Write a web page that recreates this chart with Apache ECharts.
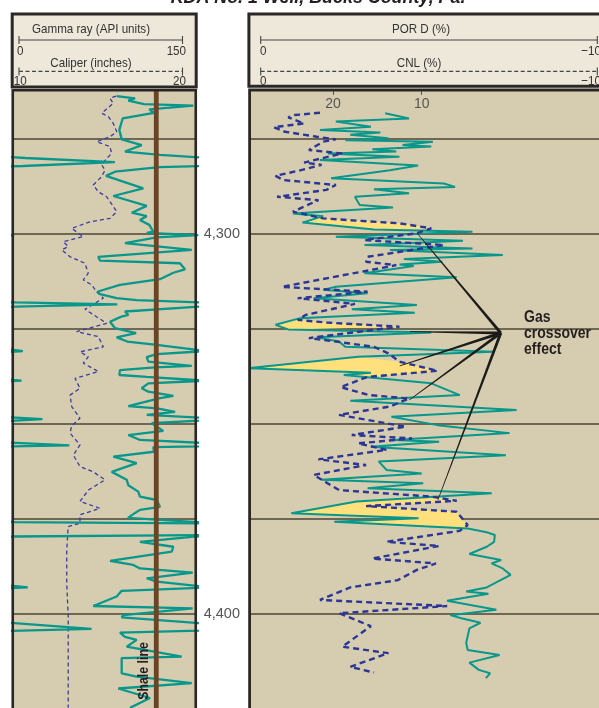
<!DOCTYPE html>
<html>
<head>
<meta charset="utf-8">
<script src="https://cdn.jsdelivr.net/npm/echarts@6/dist/echarts.min.js"></script>
<style>
  html, body { margin: 0; padding: 0; background: #ffffff; }
  #chart { width: 599px; height: 708px; }
</style>
</head>
<body>
<div id="chart"></div>
<script>
// ---- Log curves: [depth (ft), reading] ----
// Gamma ray, API units (0-150 track; readings above 150 wrap onto the backup trace)
const gammaRay = [
  [4263.7,84.5],[4264.3,99.5],[4264.9,94.0],[4265.8,106.8],[4266.2,147.0],[4267.2,111.1],[4268.1,114.9],
  [4269.6,89.4],[4272.6,86.7],[4275.1,88.6],[4276.6,104.9],[4278.3,91.3],[4279.2,119.8],[4280.0,160],
  [4281.1,233],[4282.1,158],[4282.4,119.3],[4283.6,83.2],[4284.7,75.8],[4288.0,106.2],[4290.0,81.8],
  [4292.6,109.0],[4294.4,96.8],[4295.3,109.0],[4296.3,103.5],[4297.6,111.1],[4299.4,114.4],[4299.7,109.0],
  [4300.3,151],[4300.9,117.1],[4302.4,91.3],[4304.2,145.7],[4306.0,69.5],[4307.0,70.9],[4307.7,136.1],
  [4309.3,140.2],[4310.2,130.7],[4311.9,119.8],[4313.4,87.2],[4315.2,68.7],[4315.8,70.9],[4316.9,84.5],
  [4317.4,100.8],[4318.0,152],[4318.5,235],[4319.1,152],[4320.4,91.3],[4321.3,94.0],[4321.8,87.8],
  [4323.1,79.1],[4324.8,83.2],[4326.1,100.3],[4327.2,84.5],[4328.3,93.2],[4329.2,117.1],[4330.8,158],
  [4331.6,117.1],[4332.4,109.0],[4333.6,110.3],[4334.7,145.7],[4335.1,115.8],[4335.8,87.2],[4337.1,86.7],
  [4337.6,109.0],[4338.6,157],[4339.3,110.3],[4340.6,104.9],[4341.5,110.3],[4342.6,130.7],[4343.2,119.8],
  [4345.3,94.0],[4345.9,117.6],[4346.8,132.1],[4347.6,109.0],[4348.7,174],[4349.8,113.1],[4351.8,122.5],
  [4352.9,94.0],[4354.2,103.5],[4355.6,196],[4356.1,114.4],[4357.3,114.9],[4358.6,81.8],[4360.3,100.8],
  [4362.6,80.5],[4364.7,92.7],[4366.1,94.0],[4367.8,102.1],[4369.1,103.5],[4370.0,117.1],[4371.8,119.8],
  [4372.6,103.5],[4373.4,99.5],[4374.7,93.7],[4375.8,150],[4376.2,320],[4379.2,320],[4379.6,150],
  [4381.0,103.5],[4382.3,130.7],[4383.6,129.4],[4386.0,79.1],[4387.1,98.1],[4388.0,103.5],[4389.1,146.5],
  [4390.6,109.0],[4391.5,117.1],[4393.0,162],[4393.9,88.6],[4395.4,84.5],[4397.9,65.5],[4398.5,146.5],
  [4400.3,89.9],[4400.9,88.6],[4403.9,214],[4404.9,87.2],[4406.0,91.3],[4406.8,100.8],[4408.6,92.7],
  [4411.2,137.5],[4411.6,88.6],[4415.6,88.6],[4416.5,100.8],[4418.2,145.7],[4419.6,85.8],[4422.1,111.7],
  [4424.7,95.4]
];

// Caliper, inches (10-20 track)
const caliper = [
  [4263.7,15.60],[4264.3,15.27],[4265.6,15.45],[4268.2,14.82],[4269.1,15.18],[4270.9,15.45],[4273.1,15.64],
  [4274.4,15.27],[4275.7,14.55],[4277.0,15.27],[4278.8,15.36],[4280.1,15.09],[4281.8,14.82],[4283.2,15.0],
  [4284.9,14.82],[4287.1,14.36],[4288.9,14.64],[4290.2,15.09],[4291.5,15.27],[4294.1,15.64],[4295.9,15.27],
  [4296.8,14.18],[4298.5,13.19],[4299.8,13.55],[4300.7,13.82],[4302.0,12.73],[4303.3,13.0],[4304.2,12.65],
  [4306.0,13.10],[4307.7,13.91],[4310.3,14.09],[4312.1,13.82],[4313.4,14.28],[4315.2,14.55],[4316.9,14.91],
  [4319.8,13.91],[4323.5,15.09],[4325.7,13.46],[4327.0,14.64],[4329.7,14.91],[4331.0,13.64],[4332.3,14.09],
  [4334.0,13.82],[4336.2,14.64],[4338.0,13.37],[4340.6,13.64],[4342.4,13.10],[4345.4,13.19],[4348.5,13.64],
  [4350.5,13.19],[4352.4,13.10],[4355.5,13.64],[4358.2,13.28],[4361.2,13.64],[4362.6,14.36],[4364.7,15.0],
  [4367.4,14.09],[4370.4,13.64],[4372.2,14.73],[4373.9,13.64],[4376.1,13.64],[4377.0,13.0],[4383.2,12.92],
  [4391.8,12.92],[4400.7,13.0],[4424.7,13.0]
];

// Density porosity, percent
const porD = [
  [4268.2,14.12],[4269.6,11.43],[4270.4,19.68],[4271.8,15.73],[4272.6,21.47],[4273.3,14.66],[4273.9,18.06],
  [4274.8,13.76],[4275.3,18.60],[4275.7,8.74],[4276.6,12.15],[4277.0,8.92],[4277.7,15.56],[4278.3,12.87],
  [4278.8,20.57],[4279.7,12.51],[4280.5,21.47],[4282.0,10.4],[4283.2,13.58],[4285.3,20.22],[4286.7,7.49],
  [4287.6,6.24],[4288.2,15.38],[4289.3,11.43],[4290.2,17.53],[4292.4,16.99],[4293.0,13.23],[4294.6,24.52],
  [4295.3,21.11],[4297.0,23.44],[4298.8,15.38],[4299.4,4.27],[4300.7,19.68],[4301.8,5.34],[4302.9,16.45],
  [4303.8,4.27],[4304.2,13.58],[4305.5,0.86],[4306.6,12.0],[4307.3,7.67],[4308.0,12.5],[4308.4,10.89],
  [4310.3,16.45],[4311.4,6.05],[4313.9,19.68],[4314.7,21.11],[4315.6,16.10],[4316.9,22.18],[4318.7,10.54],
  [4319.8,17.88],[4320.7,10.78],[4322.2,23.80],[4323.9,26.48],[4325.1,25.05],[4325.9,8.92],[4327.2,21.83],
  [4328.3,19.32],[4329.7,18.60],[4331.0,1.9],[4332.3,17.17],[4335.3,29.4],[4336.5,15.73],[4337.1,18.78],
  [4339.3,8.92],[4342.4,5.70],[4343.9,18.06],[4346.3,-0.7],[4348.1,13.41],[4350.3,8.20],[4352.4,0.1],
  [4354.2,13.23],[4354.7,8.03],[4356.0,15.73],[4358.2,0.5],[4359.9,14.84],[4362.1,13.95],[4363.0,10.0],
  [4364.7,21.29],[4365.6,9.82],[4366.9,16.10],[4368.2,2.1],[4370.4,17.34],[4373.5,24.70],[4374.8,10.35],
  [4375.7,19.86],[4377.5,4.8],[4378.5,2.66],[4379.2,1.75],[4381.0,1.83],[4382.3,2.66],[4384.2,4.62],
  [4385.8,1.04],[4386.7,2.12],[4388.0,0.86],[4389.7,-0.03],[4391.9,1.75],[4393.0,2.66],[4394.1,4.98],
  [4394.7,2.47],[4396.5,7.13],[4398.9,1.58],[4400.3,6.77],[4401.1,5.52],[4402.3,3.37],[4403.8,4.62],
  [4407.6,4.98],[4409.5,4.81],[4410.8,1.21],[4412.8,4.62],[4414.7,3.55],[4415.6,2.29],[4416.9,2.76]
];

// Compensated neutron porosity, percent
const cnl = [
  [4268.1,21.47],[4268.7,24.33],[4269.3,25.05],[4270.9,23.26],[4271.9,26.67],[4273.1,25.41],[4274.4,21.83],
  [4275.1,19.68],[4275.7,21.11],[4277.9,22.72],[4278.8,18.96],[4281.2,23.26],[4281.8,21.29],[4283.2,23.62],
  [4284.7,26.48],[4285.8,25.59],[4287.1,19.68],[4288.4,20.75],[4290.2,26.31],[4291.1,21.65],[4294.1,24.52],
  [4295.9,21.11],[4297.2,12.51],[4298.5,8.92],[4299.8,10.54],[4301.6,16.45],[4302.9,7.49],[4306.0,16.10],
  [4307.3,16.27],[4308.2,12.87],[4313.9,25.77],[4315.2,16.10],[4316.9,23.98],[4318.4,17.53],[4321.3,23.09],
  [4322.6,23.98],[4323.3,20.75],[4324.4,12.51],[4327.4,22.72],[4328.3,19.68],[4329.7,15.38],[4331.4,13.76],
  [4333.6,12.51],[4336.0,8.20],[4337.6,16.10],[4340.3,19.14],[4342.4,15.91],[4343.3,11.43],[4345.4,13.58],
  [4347.6,19.32],[4350.7,11.80],[4352.9,17.88],[4353.8,11.08],[4355.1,17.17],[4356.8,13.95],[4359.3,21.65],
  [4360.8,16.27],[4363.4,22.18],[4367.4,19.32],[4369.1,8.92],[4370.2,6.05],[4371.6,16.27],[4373.1,6.05],
  [4376.6,4.81],[4378.1,5.70],[4381.0,13.95],[4382.1,8.03],[4385.4,15.56],[4386.7,8.39],[4388.4,10.54],
  [4391.1,12.69],[4393.0,18.06],[4396.3,21.47],[4397.9,7.13],[4399.8,19.32],[4403.2,15.73],[4408.6,18.96],
  [4410.3,13.76],[4413.9,18.06],[4415.4,15.38]
];

// Depth intervals where density porosity reads above neutron porosity (gas crossover)
const gasZones = [[4294.0, 4299.0], [4322.0, 4325.2], [4332.0, 4337.7], [4369.0, 4377.6]];
// Leader lines of the crossover callout: [depth, porosity]
const gasApex = [4326.05, 1.08];
const gasPointers = [[4299.7, 10.54], [4325.7, 11.3], [4334.7, 12.47], [4343.7, 11.40], [4370.0, 8.17]];

const depthLines = [4275, 4300, 4325, 4350, 4375, 4400];
const depthLabels = [4300, 4400];
const porosityTicks = [20, 10];
const shaleLine = 116.8;
const gammaWrap = 150;

const DEPTH_TOP = 4262.105;
const DEPTH_BOTTOM = 4424.737;

const SANS = '"Liberation Sans", Arial, sans-serif';
const INK = '#2b2725';
const TRACK_FILL = '#d6cdb0';
const HEADER_FILL = '#ede8da';
const GREEN = '#08978b';
const BLUE = '#2b3696';
const GRID_LINE = '#4a4436';

const asXY = pts => pts.map(p => [p[1], p[0]]);

function depthLineSeries(xi, yi) {
  return {
    type: 'custom', xAxisIndex: xi, yAxisIndex: yi, z: 1, silent: true,
    data: depthLines.map(d => [0, d]),
    renderItem(params, api) {
      const y = api.coord([0, api.value(1)])[1];
      const cs = params.coordSys;
      return { type: 'line', shape: { x1: cs.x, y1: y, x2: cs.x + cs.width, y2: y },
               style: { stroke: GRID_LINE, lineWidth: 1.5 } };
    }
  };
}

// condensed-looking caption text: regular face squeezed horizontally
function txt(x, y, text, o) {
  o = o || {};
  return {
    type: 'text', x, y, z: 100, scaleX: o.scaleX || 0.86, rotation: o.rotation || 0,
    style: {
      text, fontFamily: SANS, fontSize: o.size || 13.5, fontWeight: o.weight || 'normal',
      fontStyle: o.italic ? 'italic' : 'normal', fill: o.fill || '#333',
      align: o.align || 'center', verticalAlign: o.valign || 'middle', lineHeight: o.lineHeight
    }
  };
}
const seg = (x1, y1, x2, y2, dash) => ({
  type: 'line', z: 100, shape: { x1, y1, x2, y2 },
  style: { stroke: '#444', lineWidth: 1.1, lineDash: dash || null }
});

const chart = echarts.init(document.getElementById('chart'), null, { renderer: 'canvas' });

chart.setOption({
  animation: false,
  backgroundColor: '#ffffff',
  grid: [
    { left: 13, top: 90, width: 184, height: 618, show: true, backgroundColor: TRACK_FILL, borderWidth: 0 },
    { left: 251, top: 90, width: 365, height: 618, show: true, backgroundColor: TRACK_FILL, borderWidth: 0 }
  ],
  xAxis: [
    { gridIndex: 0, type: 'value', min: 0, max: 150, show: false },
    { gridIndex: 0, type: 'value', min: 10, max: 20, show: false },
    { gridIndex: 1, type: 'value', min: -10, max: 29.25, inverse: true, position: 'top',
      axisLine: { show: false }, splitLine: { show: false },
      axisTick: { show: true, inside: true, length: 5, customValues: porosityTicks,
                  lineStyle: { color: '#555', width: 1 } },
      axisLabel: { inside: true, margin: 7, customValues: porosityTicks, color: '#555',
                   fontSize: 14, fontFamily: SANS } }
  ],
  yAxis: [
    { gridIndex: 0, type: 'value', min: DEPTH_TOP, max: DEPTH_BOTTOM, inverse: true, show: false },
    { gridIndex: 1, type: 'value', min: DEPTH_TOP, max: DEPTH_BOTTOM, inverse: true,
      axisLine: { show: false }, axisTick: { show: false }, splitLine: { show: false },
      axisLabel: { customValues: depthLabels, margin: 11, color: '#555', fontSize: 14.5, fontFamily: SANS,
                   formatter: v => Number(v).toLocaleString('en-US') } }
  ],
  series: [
    depthLineSeries(0, 0),
    depthLineSeries(2, 1),
    { name: 'Caliper', type: 'line', xAxisIndex: 1, yAxisIndex: 0, z: 3, symbol: 'none',
      data: asXY(caliper), lineStyle: { color: '#3b3ca2', width: 1.3, type: [4, 3] } },
    { name: 'Gamma ray', type: 'line', xAxisIndex: 0, yAxisIndex: 0, z: 3, symbol: 'none', clip: true,
      data: asXY(gammaRay), lineStyle: { color: GREEN, width: 2.3 } },
    { name: 'Gamma ray backup', type: 'line', xAxisIndex: 0, yAxisIndex: 0, z: 3, symbol: 'none', clip: true,
      data: gammaRay.map(p => [p[1] - gammaWrap, p[0]]), lineStyle: { color: GREEN, width: 2.3 } },
    { name: 'Shale line', type: 'line', xAxisIndex: 0, yAxisIndex: 0, z: 4, symbol: 'none',
      data: [[shaleLine, DEPTH_TOP], [shaleLine, DEPTH_BOTTOM]], lineStyle: { color: '#6b4423', width: 4.8 } },
    { name: 'Gas crossover', type: 'custom', xAxisIndex: 2, yAxisIndex: 1, z: 2, silent: true,
      data: gasZones.map(z => [10, z[0]]),
      renderItem(params, api) {
        const [top, bottom] = gasZones[params.dataIndex];
        const inZone = p => p[0] >= top && p[0] <= bottom;
        const a = porD.filter(inZone).map(p => api.coord([p[1], p[0]]));
        const b = cnl.filter(inZone).map(p => api.coord([p[1], p[0]])).reverse();
        return { type: 'polygon', shape: { points: a.concat(b) }, style: { fill: '#ffe07c' } };
      } },
    { name: 'POR D', type: 'line', xAxisIndex: 2, yAxisIndex: 1, z: 3, symbol: 'none', clip: true,
      data: asXY(porD), lineStyle: { color: GREEN, width: 2 } },
    { name: 'CNL', type: 'line', xAxisIndex: 2, yAxisIndex: 1, z: 3, symbol: 'none', clip: true,
      data: asXY(cnl), lineStyle: { color: BLUE, width: 2.4, type: [6, 4] } },
    { name: 'Callout', type: 'custom', xAxisIndex: 2, yAxisIndex: 1, z: 5, silent: true,
      data: asXY(gasPointers),
      renderItem(params, api) {
        const p0 = api.coord([api.value(0), api.value(1)]);
        const p1 = api.coord([gasApex[1], gasApex[0]]);
        const dx = p1[0] - p0[0], dy = p1[1] - p0[1], len = Math.hypot(dx, dy) || 1;
        const nx = -dy / len, ny = dx / len, w0 = 0.35, w1 = 1.5;
        return { type: 'polygon', shape: { points: [
          [p0[0] + nx * w0, p0[1] + ny * w0], [p1[0] + nx * w1, p1[1] + ny * w1],
          [p1[0] - nx * w1, p1[1] - ny * w1], [p0[0] - nx * w0, p0[1] - ny * w0]] },
          style: { fill: '#1c1b1a' } };
      } }
  ],
  graphic: [
    // title
    txt(318, -2.5, 'KDA No. 1 Well, Bucks County, Pa.', { size: 19, weight: 'bold', italic: true, fill: '#231f20', scaleX: 0.94 }),
    // gamma ray / caliper header
    { type: 'rect', z: 99, shape: { x: 12.2, y: 14, width: 184, height: 73 },
      style: { fill: HEADER_FILL, stroke: INK, lineWidth: 3 } },
    txt(91, 29, 'Gamma ray (API units)'),
    seg(19, 40, 182.5, 40), seg(19, 36, 19, 44), seg(182.5, 36, 182.5, 44),
    txt(17, 51.5, '0', { align: 'left' }), txt(186, 51.5, '150', { align: 'right' }),
    txt(91, 63, 'Caliper (inches)'),
    seg(19, 71.4, 182.5, 71.4, [4, 2.5]), seg(19, 67.5, 19, 75.5), seg(182.5, 67.5, 182.5, 75.5),
    txt(13.8, 81, '10', { align: 'left' }), txt(186, 81, '20', { align: 'right' }),
    // porosity header
    { type: 'rect', z: 99, shape: { x: 248.9, y: 14, width: 400, height: 72.3 },
      style: { fill: HEADER_FILL, stroke: INK, lineWidth: 3 } },
    txt(421, 29, 'POR D (%)'),
    seg(260.7, 40, 597.3, 40), seg(260.7, 36, 260.7, 44), seg(597.3, 36, 597.3, 44),
    txt(260, 51.5, '0', { align: 'left' }), txt(601, 51.5, '\u221210', { align: 'right' }),
    txt(419, 63, 'CNL (%)'),
    seg(260.7, 71.4, 597.3, 71.4, [4, 2.5]), seg(260.7, 67.5, 260.7, 75.5), seg(597.3, 67.5, 597.3, 75.5),
    txt(260, 81, '0', { align: 'left' }), txt(601, 81, '\u221210', { align: 'right' }),
    // track frames
    { type: 'rect', z: 99, shape: { x: 12.75, y: 90.2, width: 183, height: 640 },
      style: { fill: null, stroke: INK, lineWidth: 2.6 } },
    { type: 'rect', z: 99, shape: { x: 249.6, y: 90, width: 400, height: 640 },
      style: { fill: null, stroke: INK, lineWidth: 2.8 } },
    // annotations
    txt(144, 671, 'Shale line', { size: 14.5, weight: 'bold', fill: '#231f20', rotation: Math.PI / 2, scaleX: 0.85 }),
    txt(524, 309, 'Gas\ncrossover\neffect', { size: 16.5, weight: 'bold', fill: '#231f20',
      align: 'left', valign: 'top', lineHeight: 16, scaleX: 0.85 })
  ]
});
</script>
</body>
</html>
